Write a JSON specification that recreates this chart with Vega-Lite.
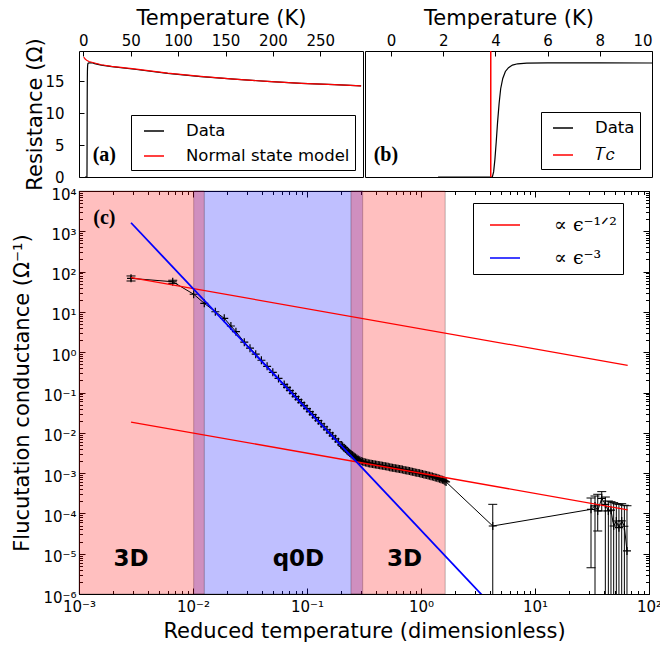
{
  "$schema": "https://vega.github.io/schema/vega-lite/v6.json",
  "padding": {"left": 11, "top": 6, "right": 0, "bottom": 0},
  "background": "white",
  "config": {
    "font": "DejaVu Sans",
    "view": {"stroke": "black", "strokeWidth": 1},
    "axis": {
      "grid": false, "domain": false,
      "labelFont": "DejaVu Sans", "labelFontSize": 15, "labelColor": "black",
      "titleFont": "DejaVu Sans", "titleFontSize": 21, "titleFontWeight": "normal", "titleColor": "black",
      "tickColor": "black", "tickWidth": 1, "tickSize": -5,
      "labelFlush": false, "labelOverlap": false, "labelPadding": 11
    },
    "legend": {"labelFont": "DejaVu Sans", "labelColor": "black", "strokeColor": "black", "fillColor": "white", "cornerRadius": 0, "labelLimit": 400}
  },
  "datasets": {
    "res": [
      {"s":"Data","T":1.8,"R":0},{"s":"Data","T":3.88,"R":0},{"s":"Data","T":3.93,"R":0.8},{"s":"Data","T":3.98,"R":2.8},
      {"s":"Data","T":4.03,"R":5.5},{"s":"Data","T":4.08,"R":8.5},{"s":"Data","T":4.14,"R":11.5},{"s":"Data","T":4.2,"R":13.8},
      {"s":"Data","T":4.28,"R":15.4},{"s":"Data","T":4.38,"R":16.5},{"s":"Data","T":4.5,"R":17.1},{"s":"Data","T":4.65,"R":17.5},
      {"s":"Data","T":4.85,"R":17.7},{"s":"Data","T":5.2,"R":17.8},{"s":"Data","T":6,"R":17.85},{"s":"Data","T":8,"R":17.85},
      {"s":"Data","T":10,"R":17.82},{"s":"Data","T":12,"R":17.72},{"s":"Data","T":19,"R":17.48},{"s":"Data","T":30,"R":17.25},
      {"s":"Data","T":54,"R":16.85},{"s":"Data","T":89,"R":16.2},{"s":"Data","T":124,"R":15.7},{"s":"Data","T":159,"R":15.3},
      {"s":"Data","T":194,"R":14.95},{"s":"Data","T":230,"R":14.65},{"s":"Data","T":265,"R":14.45},{"s":"Data","T":293,"R":14.25},
      {"s":"Normal state model","T":0.5,"R":18.75},{"s":"Normal state model","T":2,"R":18.45},{"s":"Normal state model","T":4,"R":18.2},
      {"s":"Normal state model","T":6,"R":18.05},{"s":"Normal state model","T":10,"R":17.9},{"s":"Normal state model","T":19,"R":17.55},
      {"s":"Normal state model","T":30,"R":17.3},{"s":"Normal state model","T":54,"R":16.9},{"s":"Normal state model","T":89,"R":16.25},
      {"s":"Normal state model","T":124,"R":15.72},{"s":"Normal state model","T":159,"R":15.3},{"s":"Normal state model","T":194,"R":14.95},
      {"s":"Normal state model","T":230,"R":14.65},{"s":"Normal state model","T":265,"R":14.45},{"s":"Normal state model","T":293,"R":14.25}
    ],
    "tc": [{"s":"𝑇𝑐","T":3.82}],
    "plabels": [
      {"p":"a","x":22.2,"y":3.4,"t":"(a)"},
      {"p":"b","x":-0.2,"y":3.5,"t":"(b)"},
      {"p":"c","x":0.00167,"y":2170,"t":"(c)"}
    ],
    "regions": [
      {"kind":"blue","lo":0.01014,"hi":0.308},
      {"kind":"red","lo":0.001,"hi":0.01256},
      {"kind":"red","lo":0.243,"hi":1.63}
    ],
    "rlabels": [
      {"t":"3D","eps":0.00286,"G":7.3e-6},
      {"t":"q0D","eps":0.0841,"G":7.3e-6},
      {"t":"3D","eps":0.719,"G":7.3e-6}
    ],
    "fits": [
      {"series":"∝ ϵ⁻¹ᐟ²","seg":"u","eps":0.00286,"G":71.1},
      {"series":"∝ ϵ⁻¹ᐟ²","seg":"u","eps":65,"G":0.472},
      {"series":"∝ ϵ⁻¹ᐟ²","seg":"l","eps":0.00286,"G":0.01849},
      {"series":"∝ ϵ⁻¹ᐟ²","seg":"l","eps":65,"G":0.0001227},
      {"series":"∝ ϵ⁻³","seg":"b","eps":0.00286,"G":1630},
      {"series":"∝ ϵ⁻³","seg":"b","eps":3.4,"G":9.7e-7}
    ],
    "cond": [
      {"eps":0.00286,"G":68,"lo":58.5,"hi":78},
      {"eps":0.00664,"G":56,"lo":51,"hi":61},
      {"eps":0.01014,"G":27.4},{"eps":0.01256,"G":16.3},{"eps":0.0157,"G":10.1},{"eps":0.0188,"G":6.93},
      {"eps":0.0215,"G":4.47},{"eps":0.0238,"G":3.23},{"eps":0.02818,"G":1.778},{"eps":0.03162,"G":1.259},
      {"eps":0.03548,"G":0.8913},{"eps":0.03981,"G":0.631},{"eps":0.04467,"G":0.4467},{"eps":0.05012,"G":0.3162},
      {"eps":0.05623,"G":0.2239},{"eps":0.0631,"G":0.1585},{"eps":0.06683,"G":0.1334},{"eps":0.07079,"G":0.1122},
      {"eps":0.07499,"G":0.09441},{"eps":0.07943,"G":0.07943},{"eps":0.08414,"G":0.06683},{"eps":0.08913,"G":0.05623},
      {"eps":0.09441,"G":0.04732},{"eps":0.1,"G":0.03981},{"eps":0.1059,"G":0.0335},{"eps":0.1122,"G":0.02818},
      {"eps":0.1189,"G":0.02371},{"eps":0.1259,"G":0.01995},{"eps":0.1334,"G":0.01679},{"eps":0.1413,"G":0.01413},
      {"eps":0.1496,"G":0.01189},{"eps":0.1585,"G":0.01},{"eps":0.1679,"G":0.008414},{"eps":0.1778,"G":0.007079},
      {"eps":0.1884,"G":0.005957},{"eps":0.1995,"G":0.005012},{"eps":0.2053,"G":0.004624},{"eps":0.2113,"G":0.004266},
      {"eps":0.2175,"G":0.003936},{"eps":0.2239,"G":0.003631},{"eps":0.2304,"G":0.003388},{"eps":0.2371,"G":0.003162},
      {"eps":0.244,"G":0.002951},{"eps":0.2512,"G":0.002754},{"eps":0.2585,"G":0.002585},{"eps":0.2661,"G":0.002427},
      {"eps":0.2738,"G":0.002291},{"eps":0.2818,"G":0.002163},{"eps":0.2901,"G":0.002077},{"eps":0.2985,"G":0.001995},
      {"eps":0.3072,"G":0.001939},{"eps":0.3162,"G":0.001884},{"eps":0.3255,"G":0.001841},{"eps":0.335,"G":0.001799},
      {"eps":0.3447,"G":0.001768},{"eps":0.3548,"G":0.001738},{"eps":0.3652,"G":0.001708},{"eps":0.3758,"G":0.001679},
      {"eps":0.3868,"G":0.001656},{"eps":0.3981,"G":0.001633},{"eps":0.4097,"G":0.001609},{"eps":0.4217,"G":0.001585},
      {"eps":0.434,"G":0.001563},{"eps":0.4467,"G":0.001542},{"eps":0.4597,"G":0.001519},{"eps":0.4732,"G":0.001496},
      {"eps":0.487,"G":0.001474},{"eps":0.5012,"G":0.001452},{"eps":0.5158,"G":0.001429},{"eps":0.5309,"G":0.001406},
      {"eps":0.5464,"G":0.001385},{"eps":0.5623,"G":0.001365},{"eps":0.5788,"G":0.001344},{"eps":0.5957,"G":0.001324},
      {"eps":0.6131,"G":0.001303},{"eps":0.631,"G":0.001282},{"eps":0.6494,"G":0.001262},{"eps":0.6683,"G":0.001242},
      {"eps":0.6878,"G":0.001222},{"eps":0.7079,"G":0.001202},{"eps":0.7286,"G":0.001183},{"eps":0.7499,"G":0.001164},
      {"eps":0.7718,"G":0.001143},{"eps":0.7943,"G":0.001122},{"eps":0.8175,"G":0.001101},{"eps":0.8414,"G":0.001081},
      {"eps":0.866,"G":0.001061},{"eps":0.8913,"G":0.001042},{"eps":0.9173,"G":0.001023},{"eps":0.9441,"G":0.001005},
      {"eps":0.9716,"G":0.000985},{"eps":1.0,"G":0.000966},{"eps":1.029,"G":0.000946},{"eps":1.059,"G":0.000927},
      {"eps":1.09,"G":0.000909},{"eps":1.122,"G":0.000891},{"eps":1.155,"G":0.000873},{"eps":1.189,"G":0.000855},
      {"eps":1.223,"G":0.000836},{"eps":1.259,"G":0.000818},{"eps":1.296,"G":0.0008},{"eps":1.334,"G":0.000783},
      {"eps":1.373,"G":0.000762},{"eps":1.413,"G":0.000741},{"eps":1.454,"G":0.00072},{"eps":1.496,"G":0.0007},
      {"eps":1.54,"G":0.00068},{"eps":1.585,"G":0.000661},{"eps":1.622,"G":0.000632},{"eps":1.66,"G":0.000603},
      {"eps":4.26,"G":4.87e-5,"lo":1e-9,"hi":0.000168},
      {"eps":31.0,"G":0.000126,"lo":4.5e-6,"hi":0.00024},
      {"eps":33.6,"G":0.000153,"lo":1e-9,"hi":0.00027},
      {"eps":35.5,"G":0.000115,"lo":3.66e-5,"hi":0.000298},
      {"eps":38.5,"G":0.000237,"lo":0.000115,"hi":0.000347},
      {"eps":41.4,"G":0.000168,"lo":1e-9,"hi":0.000255},
      {"eps":44.0,"G":0.000115,"lo":1e-9,"hi":0.000203},
      {"eps":46.4,"G":0.00012,"lo":1e-9,"hi":0.000195},
      {"eps":49.0,"G":4.87e-5,"lo":1e-9,"hi":0.000185},
      {"eps":51.7,"G":6.47e-5,"lo":1e-9,"hi":0.000174},
      {"eps":54.5,"G":4.42e-5,"lo":1e-9,"hi":0.000168},
      {"eps":57.6,"G":6.5e-5,"lo":1e-9,"hi":0.000174},
      {"eps":60.8,"G":4.8e-5,"lo":1e-9,"hi":0.000159},
      {"eps":64.1,"G":1.17e-5,"lo":1e-9,"hi":0.000155}
    ]
  },
  "resolve": {"scale": {"color": "independent"}, "legend": {"color": "independent"}},
  "spacing": -8,
  "vconcat": [
    {
      "spacing": 0,
      "resolve": {"scale": {"color": "independent"}, "legend": {"color": "independent"}},
      "hconcat": [
        {
          "width": 284, "height": 126,
          "layer": [
            {
              "data": {"name": "res"},
              "mark": {"type": "line", "strokeWidth": 1.2, "clip": true},
              "encoding": {
                "x": {"field": "T", "type": "quantitative", "scale": {"domain": [-4.5, 295], "nice": false, "zero": false},
                      "axis": {"orient": "top", "values": [0, 50, 100, 150, 200, 250], "title": "Temperature (K)", "titlePadding": 5, "labelPadding": 8}},
                "y": {"field": "R", "type": "quantitative", "scale": {"domain": [0, 19.7], "nice": false},
                      "axis": {"values": [0, 5, 10, 15], "title": "Resistance (Ω)", "labelPadding": 20, "titlePadding": -1}},
                "color": {"field": "s", "type": "nominal",
                          "scale": {"domain": ["Data", "Normal state model"], "range": ["black", "red"]},
                          "legend": {"orient": "none", "legendX": 52, "legendY": 64, "title": null, "direction": "vertical",
                                     "symbolType": "stroke", "symbolSize": 400, "symbolStrokeWidth": 1.5, "symbolOffset": 7,
                                     "labelFontSize": 16.5, "labelOffset": 21, "rowPadding": 5, "padding": 5}}
              }
            },
            {
              "data": {"name": "plabels"},
              "transform": [{"filter": "datum.p == 'a'"}],
              "mark": {"type": "text", "font": "Liberation Serif", "fontWeight": "bold", "fontSize": 20, "baseline": "middle", "color": "black"},
              "encoding": {
                "x": {"field": "x", "type": "quantitative"},
                "y": {"field": "y", "type": "quantitative"},
                "text": {"field": "t"}
              }
            }
          ]
        },
        {
          "width": 287, "height": 126,
          "layer": [
            {
              "data": {"name": "res"},
              "transform": [{"filter": "datum.s == 'Data'"}],
              "mark": {"type": "line", "strokeWidth": 1.2, "clip": true},
              "encoding": {
                "x": {"field": "T", "type": "quantitative", "scale": {"domain": [-1, 10], "nice": false, "zero": false},
                      "axis": {"orient": "top", "values": [0, 2, 4, 6, 8, 10], "title": "Temperature (K)", "titlePadding": 5, "labelPadding": 8, "labelFlush": true}},
                "y": {"field": "R", "type": "quantitative", "scale": {"domain": [0, 19.7], "nice": false}, "axis": null},
                "color": {"field": "s", "type": "nominal",
                          "scale": {"domain": ["Data", "𝑇𝑐"], "range": ["black", "red"]},
                          "legend": {"orient": "none", "legendX": 176, "legendY": 61, "title": null, "direction": "vertical",
                                     "symbolType": "stroke", "symbolSize": 400, "symbolStrokeWidth": 1.5, "symbolOffset": 6,
                                     "labelFontSize": 16.5, "labelOffset": 21, "rowPadding": 7, "padding": 5}}
              }
            },
            {
              "data": {"name": "tc"},
              "mark": {"type": "rule", "strokeWidth": 1.5},
              "encoding": {
                "x": {"field": "T", "type": "quantitative"},
                "color": {"field": "s", "type": "nominal"}
              }
            },
            {
              "data": {"name": "plabels"},
              "transform": [{"filter": "datum.p == 'b'"}],
              "mark": {"type": "text", "font": "Liberation Serif", "fontWeight": "bold", "fontSize": 20, "baseline": "middle", "color": "black"},
              "encoding": {
                "x": {"field": "x", "type": "quantitative"},
                "y": {"field": "y", "type": "quantitative"},
                "text": {"field": "t"}
              }
            }
          ]
        }
      ]
    },
    {
      "width": 570, "height": 403,
      "layer": [
        {
          "layer": [
            {
              "data": {"name": "regions"},
              "transform": [{"filter": "datum.kind == 'blue'"}],
              "mark": {"type": "rect", "fill": "#0000ff", "fillOpacity": 0.25, "stroke": "black", "strokeOpacity": 0.25, "strokeWidth": 1},
              "encoding": {
                "x": {"field": "lo", "type": "quantitative", "scale": {"type": "log", "domain": [0.001, 100], "nice": false},
                      "axis": {"orient": "bottom",
                               "values": [0.001,0.002,0.003,0.004,0.005,0.006,0.007,0.008,0.009,0.01,0.02,0.03,0.04,0.05,0.06,0.07,0.08,0.09,0.1,0.2,0.3,0.4,0.5,0.6,0.7,0.8,0.9,1,2,3,4,5,6,7,8,9,10,20,30,40,50,60,70,80,90,100],
                               "labelExpr": "abs(log(datum.value)/LN10 - round(log(datum.value)/LN10)) < 0.001 ? '10' + replace(replace(replace(replace(replace(replace(replace(replace('' + round(log(datum.value)/LN10), '-', '⁻'), '0', '⁰'), '1', '¹'), '2', '²'), '3', '³'), '4', '⁴'), '5', '⁵'), '6', '⁶') : ''",
                               "tickSize": {"condition": {"test": "abs(log(datum.value)/LN10 - round(log(datum.value)/LN10)) < 0.001", "value": -6}, "value": -3.5},
                               "labelPadding": 11,
                               "title": "Reduced temperature (dimensionless)", "titlePadding": 4}},
                "x2": {"field": "hi"}
              }
            },
            {
              "data": {"name": "regions"},
              "transform": [{"filter": "datum.kind == 'red'"}],
              "mark": {"type": "rect", "fill": "#ff0000", "fillOpacity": 0.25, "stroke": "black", "strokeOpacity": 0.25, "strokeWidth": 1},
              "encoding": {
                "x": {"field": "lo", "type": "quantitative", "scale": {"type": "log", "domain": [0.001, 100], "nice": false}},
                "x2": {"field": "hi"}
              }
            },
            {
              "data": {"name": "cond"},
              "transform": [{"filter": "isValid(datum.lo)"}],
              "mark": {"type": "rule", "color": "black", "strokeWidth": 1, "clip": true},
              "encoding": {
                "x": {"field": "eps", "type": "quantitative", "scale": {"type": "log", "domain": [0.001, 100], "nice": false}},
                "y": {"field": "lo", "type": "quantitative", "scale": {"type": "log", "domain": [1e-6, 10000], "nice": false},
                      "axis": {"orient": "left",
                               "values": [1e-6,2e-6,3e-6,4e-6,5e-6,6e-6,7e-6,8e-6,9e-6,1e-5,2e-5,3e-5,4e-5,5e-5,6e-5,7e-5,8e-5,9e-5,0.0001,0.0002,0.0003,0.0004,0.0005,0.0006,0.0007,0.0008,0.0009,0.001,0.002,0.003,0.004,0.005,0.006,0.007,0.008,0.009,0.01,0.02,0.03,0.04,0.05,0.06,0.07,0.08,0.09,0.1,0.2,0.3,0.4,0.5,0.6,0.7,0.8,0.9,1,2,3,4,5,6,7,8,9,10,20,30,40,50,60,70,80,90,100,200,300,400,500,600,700,800,900,1000,2000,3000,4000,5000,6000,7000,8000,9000,10000],
                               "labelExpr": "abs(log(datum.value)/LN10 - round(log(datum.value)/LN10)) < 0.001 ? '10' + replace(replace(replace(replace(replace(replace(replace(replace('' + round(log(datum.value)/LN10), '-', '⁻'), '0', '⁰'), '1', '¹'), '2', '²'), '3', '³'), '4', '⁴'), '5', '⁵'), '6', '⁶') : ''",
                               "tickSize": {"condition": {"test": "abs(log(datum.value)/LN10 - round(log(datum.value)/LN10)) < 0.001", "value": -6}, "value": -3.5},
                               "labelPadding": 9, "labelOffset": 3,
                               "title": "Flucutation conductance (Ω⁻¹)", "titlePadding": 10}},
                "y2": {"field": "hi"}
              }
            },
            {
              "data": {"name": "cond"},
              "transform": [{"filter": "isValid(datum.hi)"}],
              "mark": {"type": "tick", "orient": "horizontal", "color": "black", "size": 9, "thickness": 1, "clip": true, "opacity": 1},
              "encoding": {
                "x": {"field": "eps", "type": "quantitative", "scale": {"type": "log", "domain": [0.001, 100], "nice": false}},
                "y": {"field": "hi", "type": "quantitative", "scale": {"type": "log", "domain": [1e-6, 10000], "nice": false}}
              }
            },
            {
              "data": {"name": "cond"},
              "transform": [{"filter": "isValid(datum.lo)"}],
              "mark": {"type": "tick", "orient": "horizontal", "color": "black", "size": 9, "thickness": 1, "clip": true, "opacity": 1},
              "encoding": {
                "x": {"field": "eps", "type": "quantitative", "scale": {"type": "log", "domain": [0.001, 100], "nice": false}},
                "y": {"field": "lo", "type": "quantitative", "scale": {"type": "log", "domain": [1e-6, 10000], "nice": false}}
              }
            },
            {
              "data": {"name": "cond"},
              "mark": {"type": "line", "color": "black", "strokeWidth": 1, "clip": true},
              "encoding": {
                "x": {"field": "eps", "type": "quantitative", "scale": {"type": "log", "domain": [0.001, 100], "nice": false}},
                "y": {"field": "G", "type": "quantitative", "scale": {"type": "log", "domain": [1e-6, 10000], "nice": false}}
              }
            },
            {
              "data": {"name": "cond"},
              "mark": {"type": "point", "shape": "M-1,0L1,0M0,-1L0,1", "filled": false, "color": "black", "strokeWidth": 1.2, "size": 64, "opacity": 1, "clip": true},
              "encoding": {
                "x": {"field": "eps", "type": "quantitative", "scale": {"type": "log", "domain": [0.001, 100], "nice": false}},
                "y": {"field": "G", "type": "quantitative", "scale": {"type": "log", "domain": [1e-6, 10000], "nice": false}}
              }
            },
            {
              "data": {"name": "rlabels"},
              "mark": {"type": "text", "font": "DejaVu Sans", "fontWeight": "bold", "fontSize": 23, "baseline": "middle", "color": "black"},
              "encoding": {
                "x": {"field": "eps", "type": "quantitative", "scale": {"type": "log", "domain": [0.001, 100], "nice": false}},
                "y": {"field": "G", "type": "quantitative", "scale": {"type": "log", "domain": [1e-6, 10000], "nice": false}},
                "text": {"field": "t"}
              }
            },
            {
              "data": {"name": "plabels"},
              "transform": [{"filter": "datum.p == 'c'"}],
              "mark": {"type": "text", "font": "Liberation Serif", "fontWeight": "bold", "fontSize": 20, "baseline": "middle", "color": "black"},
              "encoding": {
                "x": {"field": "x", "type": "quantitative", "scale": {"type": "log", "domain": [0.001, 100], "nice": false}},
                "y": {"field": "y", "type": "quantitative", "scale": {"type": "log", "domain": [1e-6, 10000], "nice": false}},
                "text": {"field": "t"}
              }
            }
          ]
        },
        {
          "data": {"name": "fits"},
          "mark": {"type": "line", "clip": true},
          "encoding": {
            "x": {"field": "eps", "type": "quantitative", "scale": {"type": "log", "domain": [0.001, 100], "nice": false},
                  "axis": {"orient": "top", "labels": false, "title": null,
                           "values": [0.001,0.002,0.003,0.004,0.005,0.006,0.007,0.008,0.009,0.01,0.02,0.03,0.04,0.05,0.06,0.07,0.08,0.09,0.1,0.2,0.3,0.4,0.5,0.6,0.7,0.8,0.9,1,2,3,4,5,6,7,8,9,10,20,30,40,50,60,70,80,90,100],
                           "tickSize": {"condition": {"test": "abs(log(datum.value)/LN10 - round(log(datum.value)/LN10)) < 0.001", "value": -6}, "value": -3.5}}},
            "y": {"field": "G", "type": "quantitative", "scale": {"type": "log", "domain": [1e-6, 10000], "nice": false},
                  "axis": {"orient": "right", "labels": false, "title": null,
                           "values": [1e-6,2e-6,3e-6,4e-6,5e-6,6e-6,7e-6,8e-6,9e-6,1e-5,2e-5,3e-5,4e-5,5e-5,6e-5,7e-5,8e-5,9e-5,0.0001,0.0002,0.0003,0.0004,0.0005,0.0006,0.0007,0.0008,0.0009,0.001,0.002,0.003,0.004,0.005,0.006,0.007,0.008,0.009,0.01,0.02,0.03,0.04,0.05,0.06,0.07,0.08,0.09,0.1,0.2,0.3,0.4,0.5,0.6,0.7,0.8,0.9,1,2,3,4,5,6,7,8,9,10,20,30,40,50,60,70,80,90,100,200,300,400,500,600,700,800,900,1000,2000,3000,4000,5000,6000,7000,8000,9000,10000],
                           "tickSize": {"condition": {"test": "abs(log(datum.value)/LN10 - round(log(datum.value)/LN10)) < 0.001", "value": -6}, "value": -3.5}}},
            "color": {"field": "series", "type": "nominal",
                      "scale": {"domain": ["∝ ϵ⁻¹ᐟ²", "∝ ϵ⁻³"], "range": ["#ff0000", "#0000ff"]},
                      "legend": {"orient": "none", "legendX": 394, "legendY": 12, "title": null, "direction": "vertical",
                                 "symbolType": "stroke", "symbolSize": 900, "symbolStrokeWidth": 1.5, "symbolOffset": 10,
                                 "labelFont": "DejaVu Serif", "labelFontSize": 19, "labelOffset": 33, "rowPadding": 7, "padding": 6}},
            "detail": {"field": "seg"},
            "strokeWidth": {"condition": {"test": "datum.seg == 'b'", "value": 1.8}, "value": 1.3}
          }
        }
      ],
      "resolve": {"axis": {"x": "independent", "y": "independent"}}
    }
  ]
}
